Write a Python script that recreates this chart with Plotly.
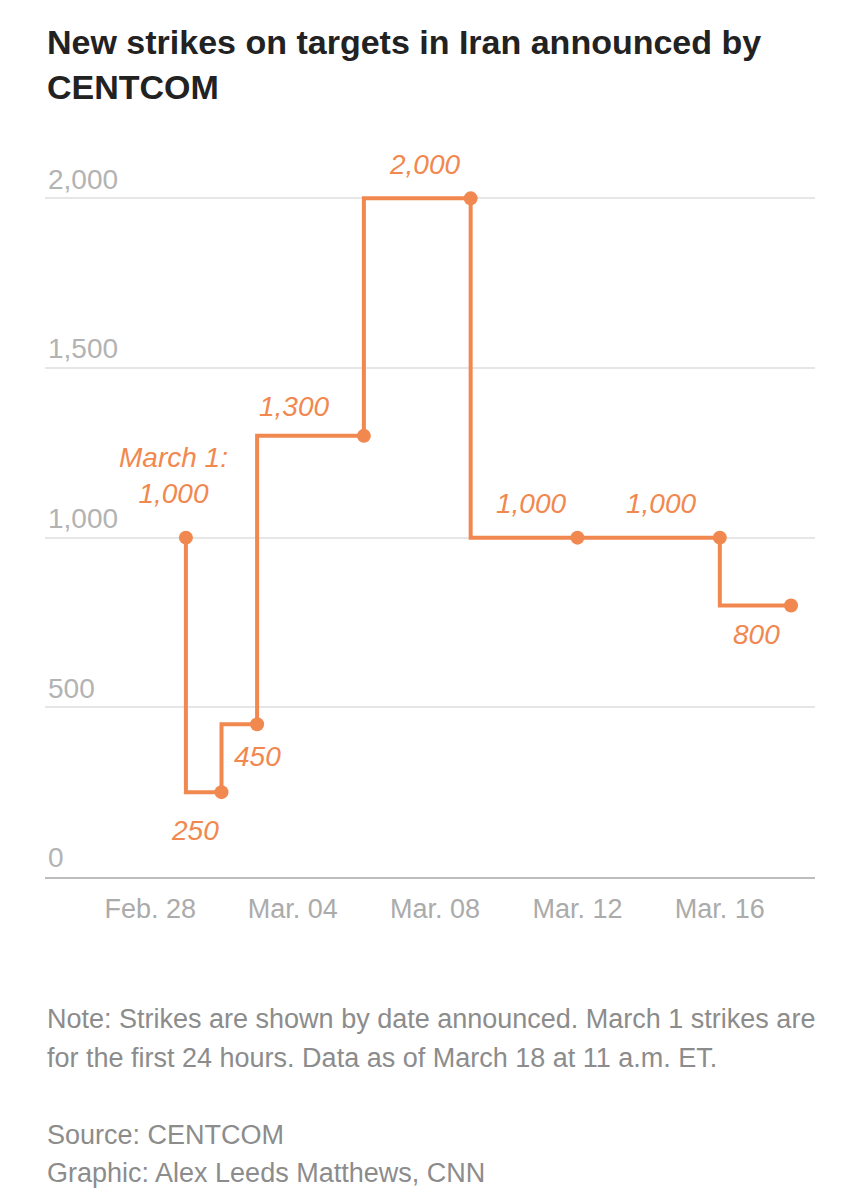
import plotly.graph_objects as go

# ---- data ----
dates = ["2026-03-01", "2026-03-02", "2026-03-03", "2026-03-06",
         "2026-03-09", "2026-03-12", "2026-03-16", "2026-03-18"]
strikes = [1000, 250, 450, 1300, 2000, 1000, 1000, 800]
point_labels = ["March 1:<br>1,000", "250", "450", "1,300",
                "2,000", "1,000", "1,000", "800"]
x_tick_dates = ["2026-02-28", "2026-03-04", "2026-03-08", "2026-03-12", "2026-03-16"]
x_tick_text = ["Feb. 28", "Mar. 04", "Mar. 08", "Mar. 12", "Mar. 16"]
y_tick_vals = [0, 500, 1000, 1500, 2000]
y_tick_text = ["0", "500", "1,000", "1,500", "2,000"]
y_max = 2110

title_lines = ["New strikes on targets in Iran announced by", "CENTCOM"]
footer_lines = [
    "Note: Strikes are shown by date announced. March 1 strikes are",
    "for the first 24 hours. Data as of March 18 at 11 a.m. ET.",
    "",
    "Source: CENTCOM",
    "Graphic: Alex Leeds Matthews, CNN",
]

# ---- style ----
ORANGE = "#F1884F"
FONT = "Liberation Sans"
OFF = 8  # page body margin
W, H = 864 - 2 * OFF, 1200 - 2 * OFF
PX_PER_UNIT = (877 - 198) / 2000
ML, MR = 45 - OFF, 864 - 815 - OFF
MT = round(877 - y_max * PX_PER_UNIT) - OFF
MB = H - (877 - OFF)
label_offsets = [(-12, 62), (-26, -38), (0, -32), (-70, 29),
                 (-46, 34), (-46, 34), (-59, 34), (-35, -29)]

fig = go.Figure()
fig.add_trace(go.Scatter(
    x=dates, y=strikes, mode="lines+markers",
    line=dict(color=ORANGE, width=4, shape="vh"),
    marker=dict(color=ORANGE, size=14),
    cliponaxis=False, hoverinfo="skip", showlegend=False,
))

for d, v, t, (dx, dy) in zip(dates, strikes, point_labels, label_offsets):
    fig.add_annotation(
        x=d, y=v, text=t, showarrow=False, xshift=dx, yshift=dy,
        xanchor="center", yanchor="middle",
        font=dict(family=FONT, size=28, color=ORANGE, style="italic"),
    )

def paper_y(py):
    return (H - MB - (py - OFF)) / (H - MT - MB)

for i, line in enumerate(title_lines):
    fig.add_annotation(
        xref="paper", yref="paper", x=0, y=paper_y(42 + 45 * i),
        xanchor="left", yanchor="middle", showarrow=False, text=line,
        font=dict(family=FONT, size=34, color="#222222", weight="bold"),
    )

for i, line in enumerate(footer_lines):
    if not line:
        continue
    fig.add_annotation(
        xref="paper", yref="paper", x=0, y=paper_y(1019 + 38.5 * i),
        xanchor="left", yanchor="middle", showarrow=False, text=line,
        font=dict(family=FONT, size=27, color="#8c8c8c"),
    )

fig.update_layout(
    width=W, height=H,
    margin=dict(l=ML, r=MR, t=MT, b=MB),
    paper_bgcolor="white", plot_bgcolor="white",
    xaxis=dict(
        type="date", range=["2026-02-25 01:00", "2026-03-18 16:10"],
        tickvals=x_tick_dates, ticktext=x_tick_text,
        showgrid=False, zeroline=False,
        showline=True, linecolor="#bdbdbd", linewidth=2,
        ticks="outside", ticklen=7, tickcolor="rgba(0,0,0,0)",
        tickfont=dict(family=FONT, size=27, color="#ababab"),
    ),
    yaxis=dict(
        range=[0, y_max], tickvals=y_tick_vals, ticktext=y_tick_text,
        ticklabelposition="inside top",
        showgrid=True, gridcolor="#e6e6e6", gridwidth=1.5,
        zeroline=False, showline=False,
        tickfont=dict(family=FONT, size=28, color="#b3b3b3"),
    ),
)

fig.write_html("out.html")
